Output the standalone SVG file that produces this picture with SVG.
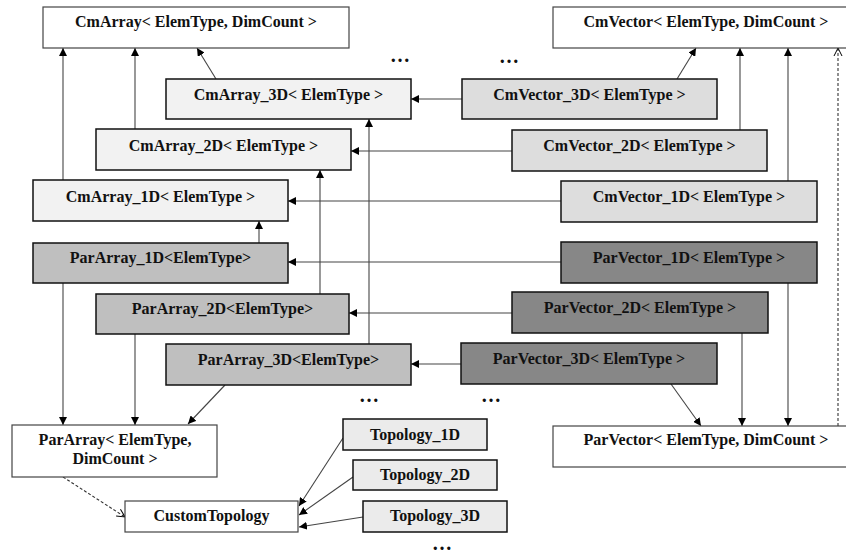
<svg xmlns="http://www.w3.org/2000/svg" width="846" height="554" viewBox="0 0 846 554">
<defs>
<marker id="ah" markerWidth="8" markerHeight="8" refX="8" refY="4" orient="auto" markerUnits="userSpaceOnUse">
<path d="M0,0 L8,4 L0,8 Z" fill="#000"/>
</marker>
<marker id="oh" markerWidth="10" markerHeight="10" refX="9" refY="5" orient="auto" markerUnits="userSpaceOnUse">
<path d="M1,1 L9,5 L1,9" fill="none" stroke="#000" stroke-width="1"/>
</marker>
<style>
text{font-family:"Liberation Serif","Times New Roman",serif;font-weight:bold;font-size:16px;text-anchor:middle;fill:#111}
.w{fill:#fff;stroke:#444;stroke-width:1.2}
.ca{fill:#f2f2f2;stroke:#111;stroke-width:1.5}
.cv{fill:#dddddd;stroke:#111;stroke-width:1.5}
.pa{fill:#bfbfbf;stroke:#111;stroke-width:1.5}
.pv{fill:#878787;stroke:#111;stroke-width:1.5}
.tp{fill:#ebebeb;stroke:#111;stroke-width:1.5}
.c line{stroke:#444;stroke-width:1.1;marker-end:url(#ah)}
.c line.d{stroke-dasharray:3,2;marker-end:url(#oh);stroke:#333}
.dots{font-size:20px}
</style>
</defs>
<rect width="846" height="554" fill="#fff"/>
<g class="c" id="connectors">
<line x1="63" y1="180" x2="63" y2="48"/>
<line x1="135" y1="129" x2="135" y2="48"/>
<line x1="216" y1="79" x2="197" y2="48"/>
<line x1="369" y1="344" x2="369" y2="119"/>
<line x1="320" y1="294" x2="320" y2="170"/>
<line x1="259" y1="243" x2="259" y2="221"/>
<line x1="462" y1="99" x2="411" y2="99"/>
<line x1="512" y1="151" x2="351" y2="151"/>
<line x1="561" y1="201" x2="288" y2="201"/>
<line x1="561" y1="262" x2="288" y2="262"/>
<line x1="512" y1="313" x2="349" y2="313"/>
<line x1="461" y1="364" x2="411" y2="364"/>
<line x1="677" y1="79" x2="696" y2="48"/>
<line x1="740" y1="130" x2="740" y2="48"/>
<line x1="788" y1="181" x2="788" y2="48"/>
<line class="d" x1="838" y1="426" x2="838" y2="48"/>
<line x1="63" y1="283" x2="63" y2="425"/>
<line x1="135" y1="334" x2="135" y2="425"/>
<line x1="225" y1="385" x2="188" y2="424"/>
<line x1="671" y1="384" x2="701" y2="426"/>
<line x1="742" y1="333" x2="742" y2="426"/>
<line x1="788" y1="283" x2="788" y2="426"/>
<line class="d" x1="63" y1="477" x2="125" y2="517"/>
<line x1="343" y1="438" x2="299" y2="506"/>
<line x1="353" y1="477" x2="299" y2="515"/>
<line x1="363" y1="517" x2="299" y2="527"/>
</g>
<g id="CmArray"><rect class="w" x="43" y="7" width="306" height="41"/><text x="196" y="27">CmArray&lt; ElemType, DimCount &gt;</text></g>
<g id="CmVector"><rect class="w" x="553" y="7" width="306" height="41"/><text x="706" y="27">CmVector&lt; ElemType, DimCount &gt;</text></g>
<g id="CmArray_3D"><rect class="ca" x="166" y="79" width="245" height="40"/><text x="288.5" y="100">CmArray_3D&lt; ElemType &gt;</text></g>
<g id="CmArray_2D"><rect class="ca" x="96" y="129" width="255" height="41"/><text x="223.5" y="151">CmArray_2D&lt; ElemType &gt;</text></g>
<g id="CmArray_1D"><rect class="ca" x="33" y="180" width="255" height="41"/><text x="160.5" y="202">CmArray_1D&lt; ElemType &gt;</text></g>
<g id="ParArray_1D"><rect class="pa" x="33" y="243" width="255" height="40"/><text x="160.5" y="263">ParArray_1D&lt;ElemType&gt;</text></g>
<g id="ParArray_2D"><rect class="pa" x="96" y="294" width="253" height="40"/><text x="222.5" y="314">ParArray_2D&lt;ElemType&gt;</text></g>
<g id="ParArray_3D"><rect class="pa" x="166" y="344" width="245" height="41"/><text x="288.5" y="365">ParArray_3D&lt;ElemType&gt;</text></g>
<g id="CmVector_3D"><rect class="cv" x="462" y="79" width="255" height="40"/><text x="589.5" y="100">CmVector_3D&lt; ElemType &gt;</text></g>
<g id="CmVector_2D"><rect class="cv" x="512" y="130" width="255" height="41"/><text x="639.5" y="151">CmVector_2D&lt; ElemType &gt;</text></g>
<g id="CmVector_1D"><rect class="cv" x="561" y="181" width="256" height="41"/><text x="689" y="202">CmVector_1D&lt; ElemType &gt;</text></g>
<g id="ParVector_1D"><rect class="pv" x="561" y="242" width="256" height="41"/><text x="689" y="263">ParVector_1D&lt; ElemType &gt;</text></g>
<g id="ParVector_2D"><rect class="pv" x="512" y="292" width="256" height="41"/><text x="640" y="313">ParVector_2D&lt; ElemType &gt;</text></g>
<g id="ParVector_3D"><rect class="pv" x="461" y="343" width="256" height="41"/><text x="589" y="364">ParVector_3D&lt; ElemType &gt;</text></g>
<g id="ParArray"><rect class="w" x="12" y="425" width="205" height="52"/><text x="115" y="445">ParArray&lt; ElemType,</text><text x="115" y="464">DimCount &gt;</text></g>
<g id="ParVector"><rect class="w" x="553" y="426" width="306" height="41"/><text x="706" y="445">ParVector&lt; ElemType, DimCount &gt;</text></g>
<g id="CustomTopology"><rect class="w" x="125" y="501" width="173" height="31"/><text x="211.5" y="521">CustomTopology</text></g>
<g id="Topology_1D"><rect class="tp" x="343" y="419" width="144" height="31"/><text x="415" y="440">Topology_1D</text></g>
<g id="Topology_2D"><rect class="tp" x="353" y="460" width="144" height="30"/><text x="425" y="480">Topology_2D</text></g>
<g id="Topology_3D"><rect class="tp" x="363" y="501" width="144" height="31"/><text x="435" y="521">Topology_3D</text></g>
<g id="dots">
<text class="dots" x="400" y="62">…</text>
<text class="dots" x="509" y="63">…</text>
<text class="dots" x="369" y="402">…</text>
<text class="dots" x="491" y="402">…</text>
<text class="dots" x="442" y="550">…</text>
</g>
</svg>
